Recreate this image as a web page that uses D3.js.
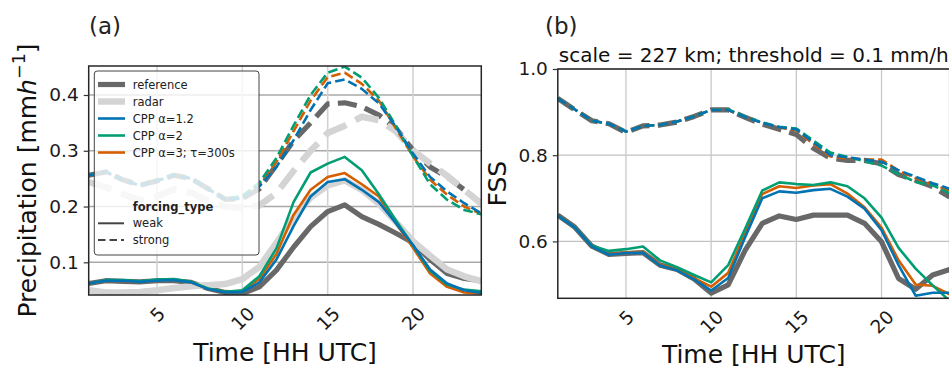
<!DOCTYPE html>
<html lang="en">
<head>
<meta charset="UTF-8" />
<script src="https://d3js.org/d3.v7.min.js"></script>
<title>Precipitation and FSS</title>
<style>
    body { margin: 0; background: #fff; }
    svg { display: block; font-family: "DejaVu Sans", sans-serif; }
    .tick line { stroke: #333; stroke-width: 1.2; }
    .tick text { font-size: 18.5px; fill: #1a1a1a; }
    .legendText { font-size: 11.5px; fill: #222; }
</style>
</head>
<body>
<svg id="chart" width="949" height="368"></svg>
<script>
// hours of the day (x values)
const hours = [1, 2, 3, 4, 5, 6, 7, 8, 9, 10, 11, 12, 13, 14, 15, 16, 17, 18, 19, 20, 21, 22, 23, 24];
const xTicks = [5, 10, 15, 20];

// panel (a): mean precipitation [mm/h]
const refWeakA = [0.062, 0.067, 0.066, 0.065, 0.067, 0.067, 0.064, 0.053, 0.046, 0.044, 0.056, 0.086, 0.127, 0.164, 0.191, 0.203, 0.182, 0.168, 0.152, 0.135, 0.105, 0.080, 0.071, 0.067];
const radarWeakA = [0.050, 0.046, 0.046, 0.047, 0.050, 0.054, 0.057, 0.059, 0.061, 0.070, 0.092, 0.135, 0.180, 0.216, 0.238, 0.247, 0.230, 0.205, 0.172, 0.138, 0.112, 0.087, 0.075, 0.066];
const blueWeakA = [0.062, 0.067, 0.067, 0.065, 0.067, 0.068, 0.064, 0.052, 0.046, 0.047, 0.064, 0.105, 0.165, 0.218, 0.244, 0.249, 0.230, 0.208, 0.170, 0.131, 0.087, 0.062, 0.050, 0.045];
const greenWeakA = [0.062, 0.068, 0.068, 0.066, 0.069, 0.070, 0.065, 0.053, 0.047, 0.050, 0.075, 0.125, 0.208, 0.261, 0.277, 0.289, 0.265, 0.222, 0.175, 0.130, 0.085, 0.060, 0.051, 0.048];
const orangeWeakA = [0.062, 0.067, 0.067, 0.065, 0.067, 0.068, 0.064, 0.052, 0.046, 0.049, 0.070, 0.115, 0.185, 0.230, 0.253, 0.260, 0.240, 0.218, 0.170, 0.126, 0.080, 0.056, 0.046, 0.044];

const refStrongA = [0.256, 0.262, 0.248, 0.238, 0.246, 0.256, 0.250, 0.232, 0.213, 0.214, 0.232, 0.275, 0.318, 0.350, 0.384, 0.386, 0.379, 0.364, 0.340, 0.301, 0.271, 0.253, 0.230, 0.206];
const radarStrongA = [0.244, 0.235, 0.222, 0.211, 0.218, 0.231, 0.225, 0.210, 0.200, 0.198, 0.202, 0.224, 0.264, 0.300, 0.332, 0.345, 0.361, 0.355, 0.335, 0.301, 0.277, 0.255, 0.230, 0.205];
const blueStrongA = [0.256, 0.262, 0.247, 0.238, 0.246, 0.256, 0.250, 0.231, 0.213, 0.214, 0.236, 0.271, 0.319, 0.373, 0.421, 0.428, 0.411, 0.385, 0.343, 0.295, 0.253, 0.227, 0.206, 0.188];
const orangeStrongA = [0.256, 0.262, 0.247, 0.238, 0.246, 0.256, 0.250, 0.231, 0.213, 0.216, 0.240, 0.280, 0.335, 0.390, 0.432, 0.440, 0.420, 0.390, 0.340, 0.290, 0.248, 0.221, 0.200, 0.187];
const greenStrongA = [0.256, 0.263, 0.248, 0.238, 0.247, 0.257, 0.251, 0.232, 0.214, 0.219, 0.243, 0.287, 0.345, 0.400, 0.440, 0.451, 0.431, 0.395, 0.345, 0.290, 0.240, 0.212, 0.194, 0.186];

// panel (b): FSS
const refWeakB = [0.661, 0.633, 0.589, 0.570, 0.572, 0.574, 0.545, 0.535, 0.513, 0.480, 0.499, 0.580, 0.642, 0.659, 0.651, 0.661, 0.661, 0.661, 0.642, 0.599, 0.514, 0.489, 0.522, 0.535];
const blueWeakB = [0.660, 0.632, 0.588, 0.569, 0.573, 0.574, 0.544, 0.533, 0.512, 0.486, 0.515, 0.610, 0.700, 0.716, 0.713, 0.719, 0.722, 0.704, 0.676, 0.626, 0.545, 0.474, 0.481, 0.481];
const orangeWeakB = [0.660, 0.632, 0.588, 0.570, 0.574, 0.576, 0.546, 0.535, 0.515, 0.495, 0.527, 0.620, 0.710, 0.728, 0.724, 0.730, 0.733, 0.711, 0.679, 0.632, 0.556, 0.500, 0.497, 0.477];
const greenWeakB = [0.660, 0.632, 0.590, 0.578, 0.582, 0.588, 0.556, 0.540, 0.522, 0.505, 0.545, 0.630, 0.718, 0.737, 0.733, 0.731, 0.737, 0.728, 0.700, 0.655, 0.585, 0.537, 0.498, 0.462];

const refStrongB = [0.932, 0.905, 0.880, 0.873, 0.853, 0.868, 0.870, 0.877, 0.890, 0.905, 0.905, 0.888, 0.872, 0.860, 0.848, 0.816, 0.793, 0.788, 0.788, 0.780, 0.755, 0.742, 0.727, 0.703];
const blueStrongB = [0.932, 0.906, 0.880, 0.873, 0.855, 0.868, 0.870, 0.878, 0.890, 0.905, 0.905, 0.888, 0.875, 0.865, 0.860, 0.830, 0.800, 0.795, 0.790, 0.785, 0.765, 0.750, 0.735, 0.722];
const orangeStrongB = [0.932, 0.906, 0.880, 0.873, 0.855, 0.868, 0.870, 0.878, 0.890, 0.905, 0.905, 0.888, 0.875, 0.864, 0.858, 0.826, 0.797, 0.793, 0.790, 0.790, 0.764, 0.747, 0.732, 0.718];
const greenStrongB = [0.932, 0.906, 0.880, 0.873, 0.855, 0.868, 0.870, 0.878, 0.890, 0.905, 0.906, 0.890, 0.876, 0.866, 0.862, 0.834, 0.806, 0.796, 0.786, 0.776, 0.756, 0.738, 0.730, 0.712];

const yTicksA = [0.1, 0.2, 0.3, 0.4];
const yTicksB = [0.6, 0.8, 1.0];

const legendLabels = ["reference", "radar", "CPP \u03b1=1.2", "CPP \u03b1=2", "CPP \u03b1=3; \u03c4=300s"];
const forcingLabels = ["weak", "strong"];

// colours / widths per run
const styles = {
    reference: { color: "#686868", width: 5.2 },
    radar: { color: "#d4d4d4", width: 6.5 },
    blue: { color: "#0173b2", width: 2.6 },
    green: { color: "#029e73", width: 2.6 },
    orange: { color: "#d55e00", width: 2.6 }
};

const svg = d3.select("#chart");

function drawPanel(p) {
    const x = d3.scaleLinear().domain([1, 24]).range([p.left, p.right]);
    const y = d3.scaleLinear().domain(p.yDomain).range([p.bottom, p.top]);
    const g = svg.append("g");

    g.append("clipPath").attr("id", p.id + "clip")
        .append("rect")
        .attr("x", p.left).attr("y", p.top)
        .attr("width", p.right - p.left).attr("height", p.bottom - p.top);

    // grid
    g.selectAll("line.hgrid").data(p.yTicks).join("line")
        .attr("class", "hgrid")
        .attr("x1", p.left).attr("x2", p.right)
        .attr("y1", d => y(d)).attr("y2", d => y(d))
        .attr("stroke", p.hGridColor).attr("stroke-width", p.gridWidth);
    g.selectAll("line.vgrid").data(xTicks).join("line")
        .attr("class", "vgrid")
        .attr("x1", d => x(d)).attr("x2", d => x(d))
        .attr("y1", p.top).attr("y2", p.bottom)
        .attr("stroke", p.vGridColor).attr("stroke-width", p.gridWidth);

    const line = d3.line().x((d, i) => x(hours[i])).y(d => d);
    const lines = g.append("g").attr("clip-path", `url(#${p.id}clip)`);

    p.series.forEach(s => {
        const st = styles[s.run];
        lines.append("path")
            .datum(s.values.map(v => y(v)))
            .attr("d", line)
            .attr("fill", "none")
            .attr("stroke", st.color)
            .attr("stroke-width", st.width)
            .attr("stroke-linejoin", "round")
            .attr("stroke-dasharray", s.strong ? `${3.7 * st.width},${1.6 * st.width}` : null);
    });

    // frame
    g.append("rect")
        .attr("x", p.left).attr("y", p.top)
        .attr("width", p.right - p.left).attr("height", p.bottom - p.top)
        .attr("fill", "none").attr("stroke", "#262626").attr("stroke-width", 1.5);

    // y axis
    const yAxis = g.append("g")
        .attr("transform", `translate(${p.left},0)`)
        .call(d3.axisLeft(y).tickValues(p.yTicks).tickSize(5).tickPadding(5).tickFormat(d3.format(".1f")));
    yAxis.select(".domain").remove();
    yAxis.attr("font-family", null).attr("font-size", null);

    // x axis, rotated labels
    const xAxis = g.append("g")
        .attr("transform", `translate(0,${p.bottom})`)
        .call(d3.axisBottom(x).tickValues(xTicks).tickSize(0));
    xAxis.select(".domain").remove();
    xAxis.attr("font-family", null).attr("font-size", null);
    xAxis.selectAll(".tick text").each(function () {
        const w = this.getComputedTextLength();
        const c = 10.5 + (w + 0.73 * 18.5) / (2 * Math.SQRT2);
        d3.select(this)
            .attr("x", 0).attr("y", 0).attr("dy", "0.35em")
            .attr("text-anchor", "middle")
            .attr("transform", `translate(0,${c}) rotate(-45)`);
    });

    // x label
    svg.append("text")
        .attr("x", (p.left + p.right) / 2).attr("y", p.xLabelY)
        .attr("text-anchor", "middle")
        .style("font-size", "25px").style("fill", "#111")
        .text("Time [HH UTC]");

    // panel letter
    svg.append("text")
        .attr("x", p.letterX).attr("y", 33.5)
        .style("font-size", "23px").style("fill", "#222")
        .text(p.letter);

    return { x, y };
}

// panel (a)
drawPanel({
    id: "a", left: 88.7, right: 481.3, top: 66, bottom: 295,
    yDomain: [0.0414, 0.452], yTicks: yTicksA,
    hGridColor: "#a9a9a9", vGridColor: "#d2d2d2", gridWidth: 1.6,
    letter: "(a)", letterX: 89, xLabelY: 360.5,
    series: [
        { run: "reference", values: refWeakA },
        { run: "reference", values: refStrongA, strong: true },
        { run: "radar", values: radarWeakA },
        { run: "radar", values: radarStrongA, strong: true },
        { run: "orange", values: orangeWeakA },
        { run: "orange", values: orangeStrongA, strong: true },
        { run: "green", values: greenWeakA },
        { run: "green", values: greenStrongA, strong: true },
        { run: "blue", values: blueWeakA },
        { run: "blue", values: blueStrongA, strong: true }
    ]
});

// panel (b)
drawPanel({
    id: "b", left: 557.8, right: 949.7, top: 69, bottom: 298.3,
    yDomain: [0.468, 1.0], yTicks: yTicksB,
    hGridColor: "#c2c2c2", vGridColor: "#c8c8c8", gridWidth: 1.3,
    letter: "(b)", letterX: 545, xLabelY: 363,
    series: [
        { run: "reference", values: refWeakB },
        { run: "reference", values: refStrongB, strong: true },
        { run: "orange", values: orangeWeakB },
        { run: "orange", values: orangeStrongB, strong: true },
        { run: "green", values: greenWeakB },
        { run: "green", values: greenStrongB, strong: true },
        { run: "blue", values: blueWeakB },
        { run: "blue", values: blueStrongB, strong: true }
    ]
});

// y labels
const yl = svg.append("text")
    .attr("transform", "translate(36,180.5) rotate(-90)")
    .attr("text-anchor", "middle")
    .style("font-size", "25px").style("fill", "#111");
yl.append("tspan").text("Precipitation [mm");
yl.append("tspan").style("font-style", "italic").text("h");
yl.append("tspan").attr("dy", -11).style("font-size", "17.5px").text("\u22121");
yl.append("tspan").attr("dy", 11).text("]");

svg.append("text")
    .attr("transform", "translate(506,183.7) rotate(-90)")
    .attr("text-anchor", "middle")
    .style("font-size", "25px").style("fill", "#111")
    .text("FSS");

// title of panel (b)
svg.append("text")
    .attr("x", (557.8 + 949.7) / 2).attr("y", 61.5)
    .attr("text-anchor", "middle")
    .style("font-size", "20px").style("fill", "#111")
    .text("scale = 227 km; threshold = 0.1 mm/h");

// legend in panel (a)
const legend = svg.append("g");
legend.append("rect")
    .attr("x", 94.3).attr("y", 71).attr("width", 164.7).attr("height", 184)
    .attr("rx", 3)
    .attr("fill", "white").attr("fill-opacity", 0.8)
    .attr("stroke", "#444").attr("stroke-width", 1);

const runKeys = ["reference", "radar", "blue", "green", "orange"];
legendLabels.forEach((label, i) => {
    const cy = 84.5 + i * 17;
    const st = styles[runKeys[i]];
    legend.append("line")
        .attr("x1", 98).attr("x2", 125).attr("y1", cy).attr("y2", cy)
        .attr("stroke", st.color).attr("stroke-width", st.width);
    legend.append("text")
        .attr("class", "legendText")
        .attr("x", 132.7).attr("y", cy).attr("dy", "0.35em")
        .text(label);
});

legend.append("text")
    .attr("class", "legendText")
    .attr("x", 132.7).attr("y", 206.5).attr("dy", "0.35em")
    .style("font-weight", "bold")
    .text("forcing_type");

forcingLabels.forEach((label, i) => {
    const cy = 223.3 + i * 16.8;
    legend.append("line")
        .attr("x1", 98).attr("x2", 124).attr("y1", cy).attr("y2", cy)
        .attr("stroke", "#444").attr("stroke-width", 2)
        .attr("stroke-dasharray", label === "strong" ? "7.5,4" : null);
    legend.append("text")
        .attr("class", "legendText")
        .attr("x", 132.7).attr("y", cy).attr("dy", "0.35em")
        .text(label);
});
</script>
</body>
</html>
